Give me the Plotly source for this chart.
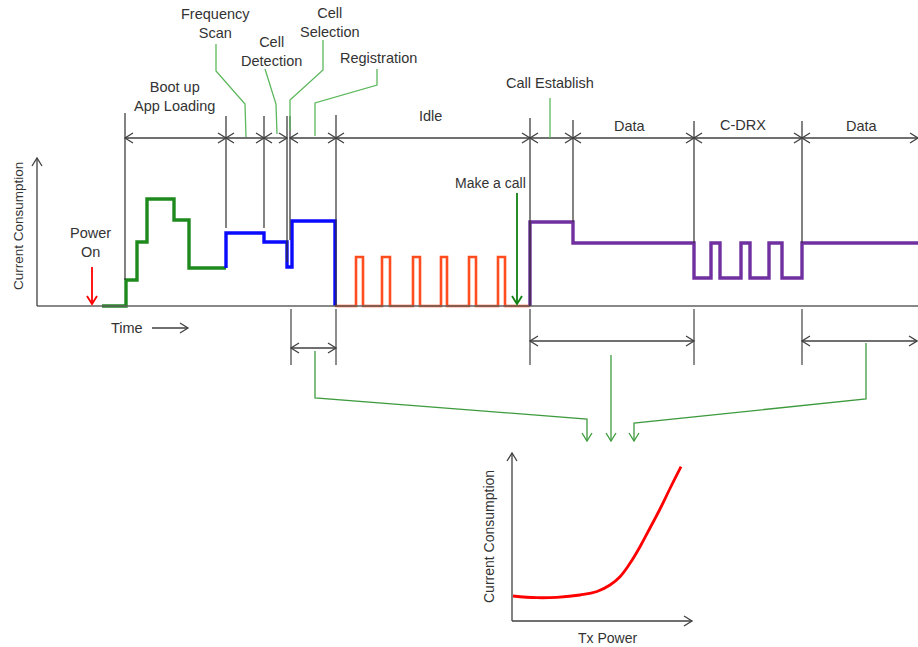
import plotly.graph_objects as go

# Main timeline (pixel x = time, level = current above the baseline)
BASE = 306
boot_t = [102, 126, 137, 147, 174, 189, 226]
boot_level = [0, 26, 64, 107, 86, 38, 38]

cell_t = [226, 226, 264, 287, 292, 335]
cell_level = [38, 73, 64, 39, 85, 0]

idle_start = 335
idle_end = 530
page_on = [356, 382, 413, 441, 469, 498]
page_off = [363, 390, 420, 447, 476, 505]
page_level = 49

conn_t = [530, 530, 573, 694, 711, 720, 741, 750, 769, 782, 802, 918]
conn_level = [0, 84, 63, 28, 63, 28, 63, 28, 63, 28, 63, 63]

# Small chart: current vs Tx power (origin at x=512, y=621)
TX0, CC0 = 512, 621
tx_power = [1, 25, 45, 68, 85, 98, 108, 118, 128, 138, 148, 158, 169]
tx_current = [25, 23.3, 23.7, 26, 29.5, 36, 44.3, 57.7, 74.3, 93, 112, 132.5, 154.3]

# phase boundaries along the top dimension line
phase_edges = [(125, 226), (226, 264), (264, 287), (290, 336), (336, 530),
               (530, 573), (573, 694), (694, 802), (802, 918)]

TXT = "#333333"
LINE = "#404040"
LEAD = "#5cb85c"
LEAD2 = "#3d9b3d"


def head(x, y, d, color, w=1.3, s=8, sp=5):
    # open chevron pointing in direction d
    if d == "l":
        p = f"M {x+s} {y-sp} L {x} {y} L {x+s} {y+sp}"
    elif d == "r":
        p = f"M {x-s} {y-sp} L {x} {y} L {x-s} {y+sp}"
    elif d == "u":
        p = f"M {x-sp} {y+s} L {x} {y} L {x+sp} {y+s}"
    else:
        p = f"M {x-sp} {y-s} L {x} {y} L {x+sp} {y-s}"
    return dict(type="path", path=p, line=dict(color=color, width=w))


def seg(x0, y0, x1, y1, color=LINE, w=1.3):
    return dict(type="line", x0=x0, y0=y0, x1=x1, y1=y1,
                line=dict(color=color, width=w))


def poly(pts, color, w=1.3):
    p = "M " + " L ".join(f"{x} {y}" for x, y in pts)
    return dict(type="path", path=p, line=dict(color=color, width=w))


def dim(a, b, y, color=LINE):
    return [seg(a, y, b, y, color), head(a, y, "l", color), head(b, y, "r", color)]


fig = go.Figure()

fig.add_trace(go.Scatter(x=boot_t, y=[BASE - v for v in boot_level], mode="lines",
                         line=dict(color="#1e8a1e", width=3.4, shape="hv")))
fig.add_trace(go.Scatter(x=cell_t, y=[BASE - v for v in cell_level], mode="lines",
                         line=dict(color="#0a0aff", width=3.4, shape="hv")))

idle_x = [idle_start]
idle_y = [0]
for a, b in zip(page_on, page_off):
    idle_x += [a, b]
    idle_y += [page_level, 0]
idle_x.append(idle_end)
idle_y.append(0)
fig.add_trace(go.Scatter(x=idle_x, y=[BASE - v for v in idle_y], mode="lines",
                         line=dict(color="#ff4d1f", width=2.6, shape="hv")))
fig.add_trace(go.Scatter(x=conn_t, y=[BASE - v for v in conn_level], mode="lines",
                         line=dict(color="#7030a0", width=3.4, shape="hv")))

fig.add_trace(go.Scatter(x=[TX0 + v for v in tx_power], y=[CC0 - v for v in tx_current],
                         mode="lines",
                         line=dict(color="#ff0000", width=2.8, shape="spline", smoothing=1.2)))

shapes = []
# main axes
shapes += [seg(37, BASE, 918, BASE, "#606060", 1.6), seg(37, BASE, 37, 158, LINE, 1.3),
           head(37, 158, "u", LINE)]
# top boundary ticks
for x, y0, y1 in [(125, 113, 280), (226, 116, 228), (264, 116, 228), (287, 116, 262),
                  (290, 116, 240), (336, 115, 306), (530, 118, 306), (573, 120, 222),
                  (694, 121, 243), (802, 121, 243)]:
    shapes.append(seg(x, y0, x, y1, "#303030", 1.2))
for a, b in phase_edges:
    shapes += dim(a, b, 138)
# lower boundary ticks and dimension arrows
for x in [291, 336, 530, 694, 802]:
    shapes.append(seg(x, 309, x, 365, "#505050", 1.3))
shapes += dim(291, 336, 348) + dim(530, 694, 341) + dim(802, 917, 341)

# green leaders top
shapes += [poly([(216, 44), (216, 71), (245, 104), (246, 137)], LEAD),
           poly([(265, 69), (276, 104), (277, 134)], LEAD),
           poly([(323, 40), (323, 70), (290, 100), (290, 130)], LEAD),
           poly([(377, 69), (377, 85), (315, 103), (315, 136)], LEAD),
           seg(550, 98, 550, 138, LEAD)]
# green leaders bottom
shapes += [poly([(315, 351), (315, 398), (587, 419), (587, 441)], LEAD2),
           head(587, 441, "d", LEAD2),
           seg(611, 355, 611, 441, LEAD2), head(611, 441, "d", LEAD2),
           poly([(866, 343), (866, 399), (634, 423), (634, 441)], LEAD2),
           head(634, 441, "d", LEAD2)]

# power on / make a call / time arrows
shapes += [seg(92, 267, 92, 304, "#ff0000", 1.8), head(92, 304, "d", "#ff0000", 1.8),
           seg(517, 193, 517, 304, "#108010", 1.8), head(517, 304, "d", "#108010", 1.8),
           seg(152, 328, 188, 328, LINE), head(188, 328, "r", LINE)]

# small chart axes
shapes += [seg(512, 621, 512, 453, LINE), head(512, 453, "u", LINE),
           seg(512, 621, 692, 621, LINE), head(692, 621, "r", LINE)]

labels = [
    ("Boot up<br>App Loading", 174, 96, 0, 14.5),
    ("Frequency<br>Scan", 215, 23, 0, 14.5),
    ("Cell<br>Detection", 271, 51, 0, 14.5),
    ("Cell<br>Selection", 330, 22, 0, 14.5),
    ("Registration", 378, 58, 0, 14.5),
    ("Idle", 430, 116, 0, 14.5),
    ("Call Establish", 550, 83, 0, 14.5),
    ("Data", 630, 126, 0, 14.5),
    ("C-DRX", 743, 125, 0, 14.5),
    ("Data", 862, 126, 0, 14.5),
    ("Power<br>On", 90, 242, 0, 14.5),
    ("Make a call", 490, 183, 0, 14),
    ("Time", 127, 328, 0, 14.5),
    ("Current Consumption", 18, 226, -90, 13.5),
    ("Tx Power", 607, 638, 0, 14),
    ("Current Consumption", 489, 537, -90, 14),
]
annotations = [dict(text=t, x=x, y=y, xref="x", yref="y", showarrow=False,
                    textangle=a, font=dict(size=s, color=TXT),
                    xanchor="center", yanchor="middle")
               for t, x, y, a, s in labels]

fig.update_layout(
    width=918, height=647,
    margin=dict(l=0, r=0, t=0, b=0),
    paper_bgcolor="white", plot_bgcolor="white",
    showlegend=False,
    font=dict(family="Liberation Sans, Arial, sans-serif"),
    xaxis=dict(range=[0, 918], visible=False, fixedrange=True),
    yaxis=dict(range=[647, 0], visible=False, fixedrange=True),
    shapes=shapes, annotations=annotations,
)

fig.write_html("out.html", config={"displayModeBar": False},
               post_script="document.body.style.margin='0';")
